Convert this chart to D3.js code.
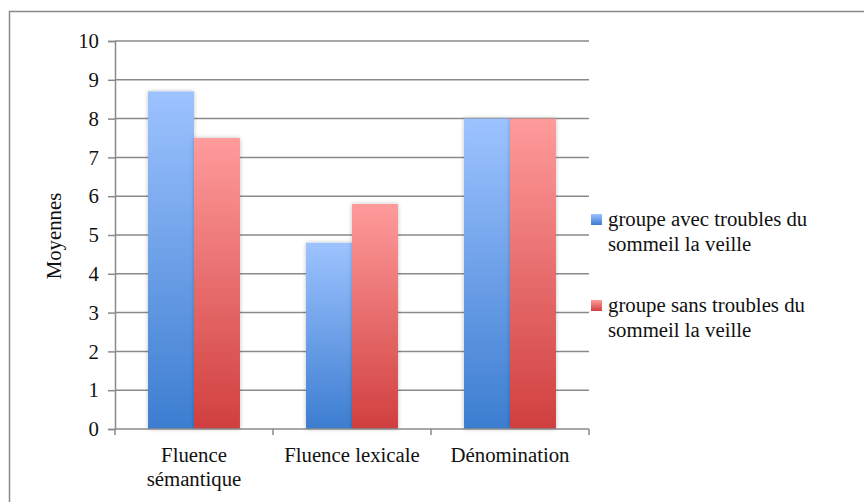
<!DOCTYPE html>
<html><head><meta charset="utf-8">
<script src="https://cdn.jsdelivr.net/npm/d3@7"></script>
<style>body{margin:0;background:#fff}svg{display:block}</style>
</head><body><svg id="c" width="864" height="502"></svg>
<script>
const categories = [["Fluence","sémantique"],["Fluence lexicale"],["Dénomination"]];
const seriesNames = [["groupe avec troubles du","sommeil la veille"],["groupe sans troubles du","sommeil la veille"]];
const avecTroubles = [8.7, 4.8, 8.0];
const sansTroubles = [7.5, 5.8, 8.0];
const yTicks = [0,1,2,3,4,5,6,7,8,9,10];
const yLabel = "Moyennes";

const FONT = "Liberation Serif, Times New Roman, serif";
const svg = d3.select("#c").attr("font-family",FONT);
const fs = 20.8;
const L = 115, R = 589, T = 41, B = 429;
svg.append("rect").attr("x",9.5).attr("y",11.5).attr("width",900).attr("height",600)
  .attr("fill","#fff").attr("stroke","#8a8a8a").attr("stroke-width",1.5);

const defs = svg.append("defs");
const grads = [["gb","#9DC3FF","#3C7DD0"],["gr","#FF9B9B","#D03F3F"]];
grads.forEach(([id,top,bot])=>{
  const g = defs.append("linearGradient").attr("id",id).attr("x1",0).attr("y1",0).attr("x2",0).attr("y2",1);
  g.append("stop").attr("offset",0).attr("stop-color",top);
  g.append("stop").attr("offset",1).attr("stop-color",bot);
});
const f = defs.append("filter").attr("id","sh").attr("x","-20%").attr("y","-20%").attr("width","140%").attr("height","140%");
f.append("feDropShadow").attr("dx",0).attr("dy",0).attr("stdDeviation",2).attr("flood-color","#000").attr("flood-opacity",0.25);

const y = d3.scaleLinear().domain([0,10]).range([B,T]);
const idx = d3.range(categories.length);
const x0 = d3.scaleBand().domain(idx).range([L,R]).paddingInner(0.418).paddingOuter(0.209);
const x1 = d3.scaleBand().domain([0,1]).range([0,x0.bandwidth()]);

// gridlines
svg.append("g").selectAll("line").data(yTicks.filter(d=>d>0)).join("line")
  .attr("x1",L).attr("x2",R).attr("y1",d=>y(d)).attr("y2",d=>y(d))
  .attr("stroke","#8a8a8a").attr("stroke-width",1.5);

// y axis
const ya = svg.append("g").attr("transform",`translate(${L},0)`)
  .call(d3.axisLeft(y).tickValues(yTicks).tickSize(7).tickPadding(9));
ya.attr("font-family",FONT).attr("font-size",fs);
ya.select(".domain").attr("stroke","#8a8a8a").attr("stroke-width",1.5);
ya.selectAll(".tick line").attr("stroke","#8a8a8a").attr("stroke-width",1.5);
ya.selectAll(".tick text").attr("fill","#111");

// bars
const series = [avecTroubles, sansTroubles];
const g = svg.append("g");
series.forEach((vals,s)=>{
  g.selectAll(".b"+s).data(vals).join("rect")
    .attr("x",(d,i)=>x0(i)+x1(s)).attr("width",x1.bandwidth())
    .attr("y",d=>y(d)).attr("height",d=>y(0)-y(d))
    .attr("fill",`url(#${grads[s][0]})`).attr("filter","url(#sh)");
});

// x axis
const xa = svg.append("g");
xa.append("line").attr("x1",L).attr("x2",R).attr("y1",B).attr("y2",B).attr("stroke","#8a8a8a").attr("stroke-width",1.5);
const bounds = d3.range(categories.length+1).map(i=>L + i*x0.step());
xa.selectAll(".t").data(bounds).join("line").attr("x1",d=>d).attr("x2",d=>d).attr("y1",B).attr("y2",B+6)
  .attr("stroke","#8a8a8a").attr("stroke-width",1.5);
categories.forEach((lines,i)=>{
  const cx = x0(i)+x0.bandwidth()/2;
  const t = xa.append("text").attr("text-anchor","middle").attr("font-size",fs).attr("font-family",FONT).attr("fill","#111");
  lines.forEach((ln,k)=>t.append("tspan").attr("x",cx).attr("y",462+k*24).text(ln));
});

// y label
svg.append("text").attr("transform","translate(61,236) rotate(-90)").attr("text-anchor","middle")
  .attr("font-size",fs).attr("font-family",FONT).attr("fill","#111").text(yLabel);

// legend
const legY = [214, 300];
seriesNames.forEach((lines,s)=>{
  svg.append("rect").attr("x",591).attr("y",legY[s]).attr("width",11).attr("height",11).attr("fill",`url(#${grads[s][0]})`);
  const t = svg.append("text").attr("font-size",fs).attr("font-family",FONT).attr("fill","#111");
  lines.forEach((ln,k)=>t.append("tspan").attr("x",608).attr("y",legY[s]+12+k*24.5).text(ln));
});
</script></body></html>
